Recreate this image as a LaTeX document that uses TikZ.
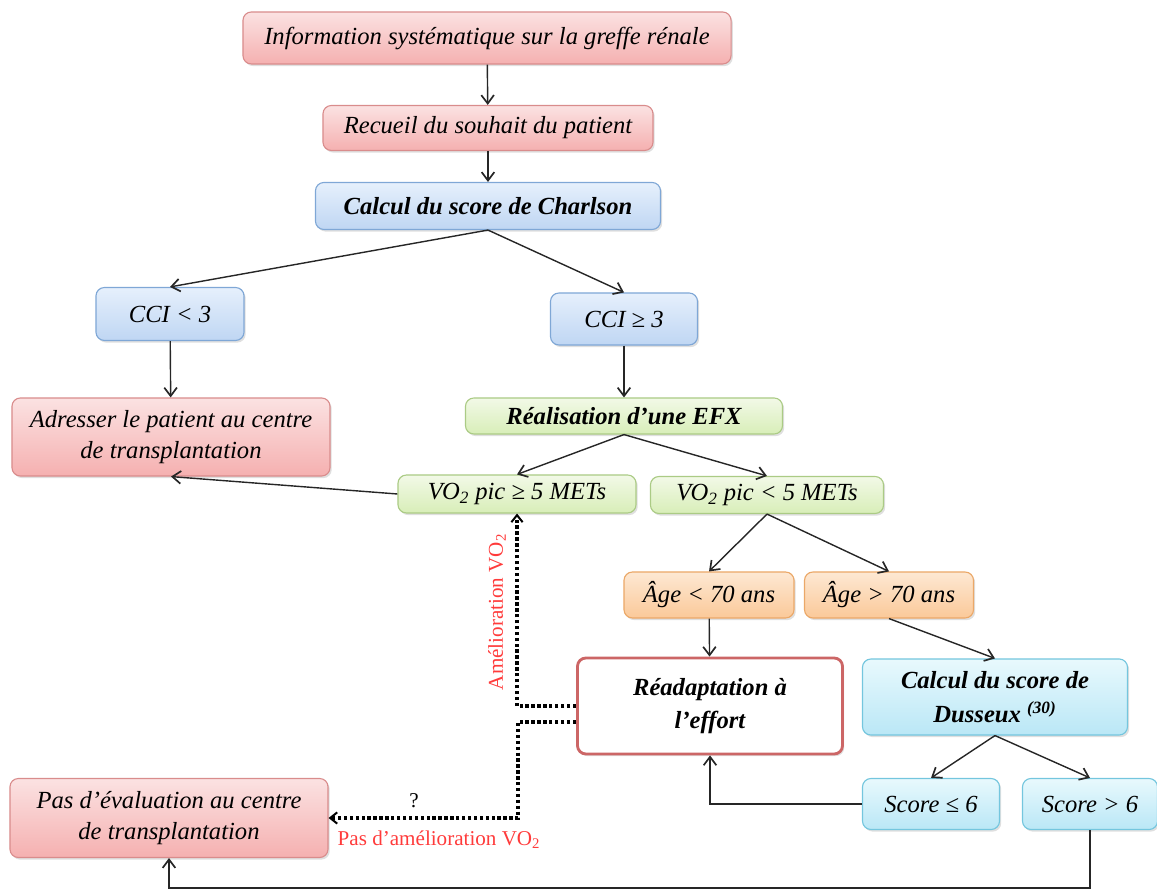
\documentclass[tikz,border=0pt]{standalone}
\usepackage{fontspec}
\setmainfont{Liberation Serif}
\usetikzlibrary{arrows.meta,shadows,calc}
\definecolor{redline}{HTML}{D98C8C}
\definecolor{redtop}{HTML}{FBE2E2}
\definecolor{redbot}{HTML}{F5B0B0}
\definecolor{blueline}{HTML}{7FA7D6}
\definecolor{bluetop}{HTML}{E6F0FC}
\definecolor{bluebot}{HTML}{BFD6F3}
\definecolor{greenline}{HTML}{ABCB85}
\definecolor{greentop}{HTML}{F2F9E7}
\definecolor{greenbot}{HTML}{D8EEB8}
\definecolor{orangeline}{HTML}{EBA868}
\definecolor{orangetop}{HTML}{FDE8D3}
\definecolor{orangebot}{HTML}{FBC999}
\definecolor{cyanline}{HTML}{74C6DE}
\definecolor{cyantop}{HTML}{E8F9FD}
\definecolor{cyanbot}{HTML}{BAE7F6}
\definecolor{readline}{HTML}{CC6666}
\definecolor{notered}{HTML}{FF3B3B}
\begin{document}
\begin{tikzpicture}[x=0.025cm, y=-0.025cm,
    box/.style={rounded corners=6pt, draw, line width=0.8pt, inner sep=2pt, align=center,
      font=\fontsize{17.5}{22}\selectfont\itshape,
      drop shadow={opacity=0.25, shadow xshift=1.2pt, shadow yshift=-1.5pt}},
    redbox/.style={box, draw=redline, top color=redtop, bottom color=redbot},
    bluebox/.style={box, draw=blueline, top color=bluetop, bottom color=bluebot},
    greenbox/.style={box, draw=greenline, top color=greentop, bottom color=greenbot},
    orangebox/.style={box, draw=orangeline, top color=orangetop, bottom color=orangebot},
    cyanbox/.style={box, draw=cyanline, top color=cyantop, bottom color=cyanbot},
    boldtext/.style={font=\fontsize{17.5}{24}\selectfont\bfseries\itshape},
    arr/.style={-{Straight Barb[length=6pt,width=9pt,line width=1.2pt]}, line width=1pt, draw=black!85},
    dots/.style={-{Straight Barb[length=5pt,width=8pt,line width=1.4pt]}, line width=2.4pt,
      dash pattern=on 2.4pt off 1.8pt},
    note/.style={text=notered, font=\fontsize{15}{18}\selectfont}]
  \useasboundingbox (0,0) rectangle (1157,891);
  \node[redbox, minimum width=12.2cm, minimum height=1.3cm] (info) at (487,38)
    {Information systématique sur la greffe rénale};
  \node[redbox, minimum width=8.25cm, minimum height=1.125cm] (recueil) at (488,128)
    {Recueil du souhait du patient};
  \node[bluebox, boldtext, minimum width=8.625cm, minimum height=1.175cm] (charlson) at (488,206)
    {Calcul du score de Charlson};
  \node[bluebox, minimum width=3.7cm, minimum height=1.325cm] (cciA) at (170,314) {CCI < 3};
  \node[bluebox, minimum width=3.675cm, minimum height=1.3cm] (cciB) at (624,319) {CCI ≥ 3};
  \node[redbox, minimum width=7.95cm, minimum height=1.95cm] (adresser) at (171,437)
    {Adresser le patient au centre\\de transplantation};
  \node[greenbox, boldtext, minimum width=7.925cm, minimum height=0.9cm] (efx) at (624,416)
    {Réalisation d’une EFX};
  \node[greenbox, minimum width=5.95cm, minimum height=0.95cm] (vopos) at (517,494)
    {VO\textsubscript{2} pic ≥ 5 METs};
  \node[greenbox, minimum width=5.825cm, minimum height=0.925cm] (voneg) at (767,495)
    {VO\textsubscript{2} pic < 5 METs};
  \node[orangebox, minimum width=4.25cm, minimum height=1.15cm] (ageA) at (709,595) {Âge < 70 ans};
  \node[orangebox, minimum width=4.225cm, minimum height=1.15cm] (ageB) at (889,595) {Âge > 70 ans};
  \node[box, boldtext, draw=readline, line width=2pt, fill=white, minimum width=6.625cm, minimum height=2.4cm] (readapt) at (710,706)
    {Réadaptation à\\l’effort};
  \node[cyanbox, boldtext, minimum width=6.625cm, minimum height=1.9cm] (dusseux) at (995,697)
    {Calcul du score de\\Dusseux \textsuperscript{(30)}};
  \node[cyanbox, minimum width=3.425cm, minimum height=1.275cm] (scoreA) at (931,804) {Score ≤ 6};
  \node[cyanbox, minimum width=3.375cm, minimum height=1.275cm] (scoreB) at (1090,804) {Score > 6};
  \node[redbox, minimum width=7.95cm, minimum height=1.975cm] (pasEval) at (169,818)
    {Pas d’évaluation au centre\\de transplantation};
  \coordinate (turn) at (518,818);
  \draw[arr] (info) -- (recueil);
  \draw[arr] (recueil) -- (charlson);
  \draw[arr] (charlson.south) -- (cciA.north);
  \draw[arr] (charlson.south) -- (cciB.north);
  \draw[arr] (cciA) -- (adresser);
  \draw[arr] (cciB) -- (efx);
  \draw[arr] (efx.south) -- (vopos.north);
  \draw[arr] (efx.south) -- (voneg.north);
  \draw[arr] (vopos.west) -- (adresser.south);
  \draw[arr] (voneg.south) -- (ageA.north);
  \draw[arr] (voneg.south) -- (ageB.north);
  \draw[arr] (ageA) -- (readapt);
  \draw[arr] (ageB.south) -- (dusseux.north);
  \draw[arr] (dusseux.south) -- (scoreA.north);
  \draw[arr] (dusseux.south) -- (scoreB.north);
  \draw[arr] (scoreA.west) -| (readapt.south);
  \draw[arr] (scoreB.south) -- ++(0,58) -| (pasEval.south);
  \draw[dots] (readapt.west) -| (vopos.south);
  \draw[dots] ($(readapt.west)+(0,16)$) -| (turn) -- (pasEval.east);
  \node[note, rotate=90] (better) at (497,612) {Amélioration VO\textsubscript{2}};
  \node[note] (noBetter) at (439,840) {Pas d’amélioration VO\textsubscript{2}};
  \node[font=\fontsize{15}{18}\selectfont] (query) at (414,801) {?};
\end{tikzpicture}
\end{document}
